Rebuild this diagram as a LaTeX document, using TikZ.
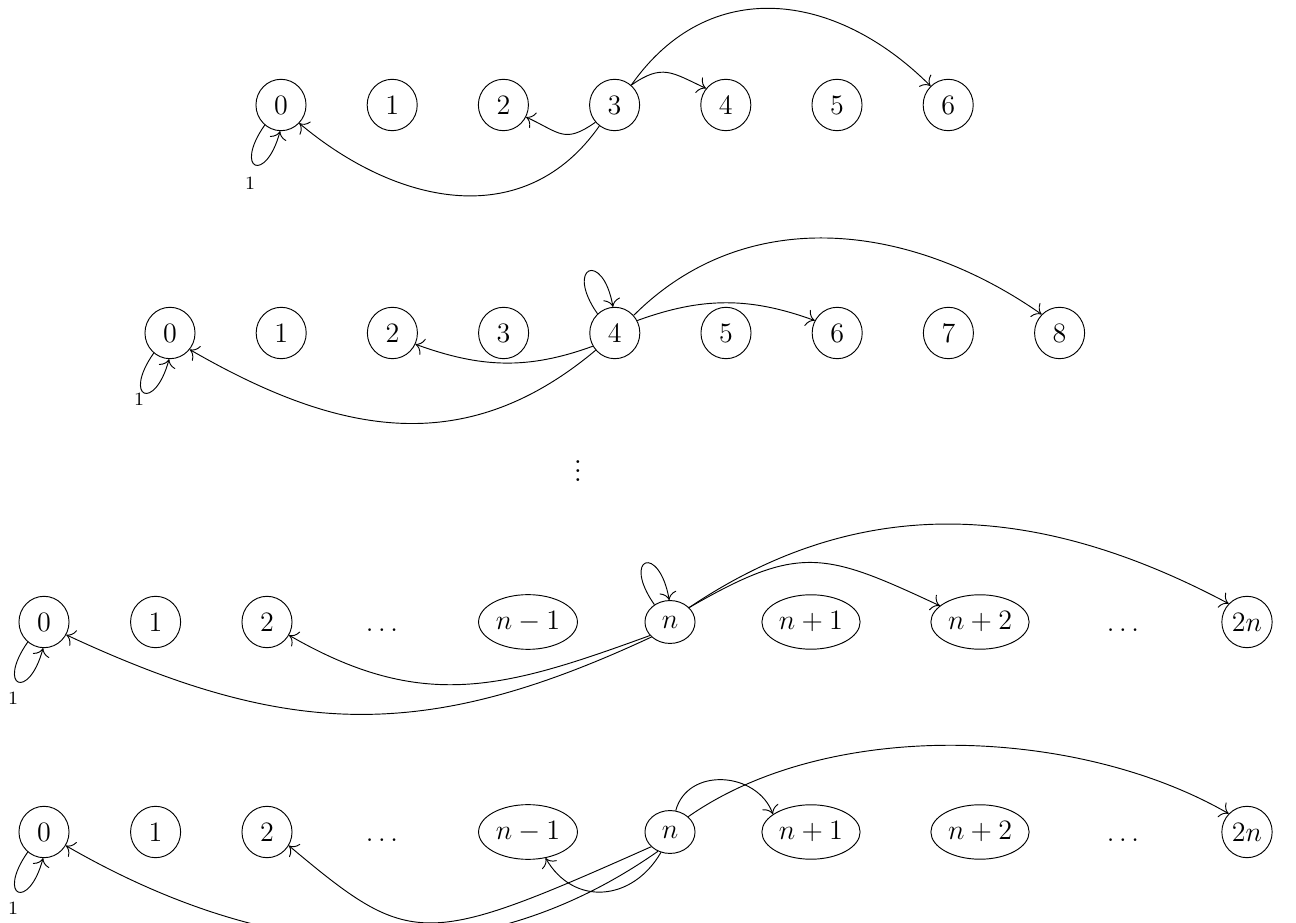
\documentclass[tikz,border=0pt]{standalone}
\usetikzlibrary{shapes.geometric,arrows.meta}
\begin{document}
\begin{tikzpicture}[x=0.4274pt,y=0.4274pt,
  font=\fontsize{12.8}{15}\selectfont,
  >={To[scale=1.4]},
  st/.style={draw, ellipse, inner xsep=1.16pt, inner ysep=3.9pt, minimum width=21.4pt},
  gp/.style={inner sep=2pt},
  lbl/.style={font=\fontsize{8}{9}\selectfont, inner sep=0pt},
  ar/.style={->},
  lpb/.style={->, out=235, in=255, distance=23.5pt},
  lpa/.style={->, out=125, in=100, distance=24.8pt}]
\useasboundingbox (0,0) rectangle (1296,922);
\clip (0,0) rectangle (1296,922);
% ---------- row 1
\node[st] (a0) at (281,817) {$0$};
\node[st] (a1) at (392.2,817) {$1$};
\node[st] (a2) at (503.4,817) {$2$};
\node[st] (a3) at (614.6,817) {$3$};
\node[st] (a4) at (725.8,817) {$4$};
\node[st] (a5) at (837,817) {$5$};
\node[st] (a6) at (948.2,817) {$6$};
\draw[lpb] (a0.231) to (a0.268);
\node[lbl] (al) at (250,739) {1};
\draw[ar] (a3.234) to[out=235,in=320,looseness=1.1] (a0.315);
\draw[ar] (a3.222) to[out=215,in=335,looseness=1.4] (a2.332);
\draw[ar] (a3.50) to[out=35,in=155,looseness=1.3] (a4.140);
\draw[ar] (a3.50) to[out=55,in=135,looseness=1.15] (a6.133);
% ---------- row 2
\node[st] (b0) at (170,589) {$0$};
\node[st] (b1) at (281.2,589) {$1$};
\node[st] (b2) at (392.4,589) {$2$};
\node[st] (b3) at (503.6,589) {$3$};
\node[st] (b4) at (614.8,589) {$4$};
\node[st] (b5) at (726,589) {$5$};
\node[st] (b6) at (837.2,589) {$6$};
\node[st] (b7) at (948.4,589) {$7$};
\node[st] (b8) at (1059.6,589) {$8$};
\draw[lpb] (b0.231) to (b0.268);
\node[lbl] (bl) at (139,523) {1};
\draw[lpa] (b4.132) to (b4.94);
\draw[ar] (b4.211) to[out=200,in=340] (b2.334);
\draw[ar] (b4.222) to[out=220,in=330,looseness=1.08] (b0.320);
\draw[ar] (b4.29) to[out=20,in=160] (b6.151);
\draw[ar] (b4.43) to[out=45,in=145] (b8.134);
% ---------- vertical dots
\node[inner sep=0pt] (vd) at (578,458) {$\vdots$};
% ---------- row 3
\node[st] (c0) at (44,300) {$0$};
\node[st] (c1) at (155.6,300) {$1$};
\node[st] (c2) at (267,300) {$2$};
\node[gp] (cd1) at (382,292) {$\ldots$};
\node[st] (cnm1) at (528,300) {$n-1$};
\node[st] (cn) at (670,300) {$n$};
\node[st] (cnp1) at (811,300) {$n+1$};
\node[st] (cnp2) at (980,300) {$n+2$};
\node[gp] (cd2) at (1123,292) {$\ldots$};
\node[st] (c2n) at (1247,300) {$2n$};
\draw[lpb] (c0.231) to (c0.268);
\node[lbl] (cl) at (13,224) {1};
\draw[lpa] (cn.132) to (cn.92);
\draw[ar] (cn.214) to[out=200,in=330,looseness=1.1] (c2.329);
\draw[ar] (cn.219) to[out=205,in=335,looseness=1.08] (c0.330);
\draw[ar] (cn.37) to[out=30,in=155,looseness=1.3] (cnp2.158);
\draw[ar] (cn.37) to[out=34,in=152] (c2n.135);
% ---------- row 4
\node[st] (d0) at (44,90) {$0$};
\node[st] (d1) at (155.6,90) {$1$};
\node[st] (d2) at (267,90) {$2$};
\node[gp] (dd1) at (382,82) {$\ldots$};
\node[st] (dnm1) at (528,90) {$n-1$};
\node[st] (dn) at (670,90) {$n$};
\node[st] (dnp1) at (811,90) {$n+1$};
\node[st] (dnp2) at (980,90) {$n+2$};
\node[gp] (dd2) at (1123,82) {$\ldots$};
\node[st] (d2n) at (1247,90) {$2n$};
\draw[lpb] (d0.231) to (d0.268);
\node[lbl] (dl) at (13,14) {1};
\draw[ar] (dn.75) to[out=75,in=110,looseness=1.2] (dnp1.155);
\draw[ar] (dn.40) to[out=35,in=150,looseness=0.82] (d2n.135);
\draw[ar] (dn.246) to[out=240,in=300,looseness=1.25] (dnm1.304);
\draw[ar] (dn.218) .. controls +(204:250) and +(320:160) .. (d2.328);
\draw[ar] (dn.238) .. controls +(215:250) and +(330:200) .. (d0.328);
\end{tikzpicture}
\end{document}
